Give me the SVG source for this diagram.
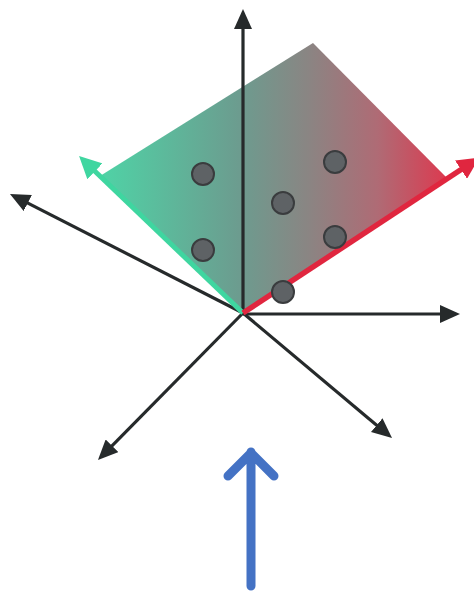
<svg xmlns="http://www.w3.org/2000/svg" width="474" height="591" viewBox="0 0 474 591">
  <style>
    .axis { stroke: #262a2b; stroke-width: 3.2; fill: none; }
    .dot { fill: #5e6265; stroke: #3a3c3e; stroke-width: 2; }
  </style>
  <defs>
    <linearGradient id="planeGrad" x1="100" y1="0" x2="447" y2="0" gradientUnits="userSpaceOnUse">
      <stop offset="0" stop-color="#4fd3a6"/>
      <stop offset="0.4" stop-color="#6c9c8f"/>
      <stop offset="0.6" stop-color="#8a8583"/>
      <stop offset="0.8" stop-color="#af6b75"/>
      <stop offset="1" stop-color="#dc3a50"/>
    </linearGradient>
    <marker id="ah" viewBox="0 0 20 18" markerUnits="userSpaceOnUse" markerWidth="20" markerHeight="18" refX="12" refY="9" orient="auto">
      <path d="M0,0 L20,9 L0,18 z" fill="#262a2b"/>
    </marker>
    <marker id="ahTeal" viewBox="0 0 22 22" markerUnits="userSpaceOnUse" markerWidth="22" markerHeight="22" refX="12" refY="11" orient="auto">
      <path d="M0,0 L22,11 L0,22 z" fill="#3fd6a0"/>
    </marker>
    <marker id="ahRed" viewBox="0 0 22 22" markerUnits="userSpaceOnUse" markerWidth="22" markerHeight="22" refX="12" refY="11" orient="auto">
      <path d="M0,0 L22,11 L0,22 z" fill="#e0263f"/>
    </marker>
  </defs>

  <g id="plane">
    <polygon points="243,313 100,176 313,43 447,178" fill="url(#planeGrad)"/>
  </g>

  <g id="connectors">
    <line class="axis" x1="243" y1="313" x2="243" y2="17" marker-end="url(#ah)"/>
    <line class="axis" x1="243" y1="313" x2="17.1" y2="197.6" marker-end="url(#ah)"/>
    <line class="axis" x1="243" y1="314" x2="452" y2="314" marker-end="url(#ah)"/>
    <line class="axis" x1="243" y1="313" x2="103.6" y2="454.3" marker-end="url(#ah)"/>
    <line class="axis" x1="243" y1="313" x2="385.9" y2="432.9" marker-end="url(#ah)"/>
    <line x1="243" y1="313" x2="86.3" y2="163" stroke="#3fd6a0" stroke-width="5" marker-end="url(#ahTeal)"/>
    <line x1="243" y1="313" x2="471" y2="163" stroke="#e0263f" stroke-width="5.5" marker-end="url(#ahRed)"/>
    <path d="M251,586 L251,452 M228,476 L251,453 L274,476" fill="none" stroke="#4472c4" stroke-width="9" stroke-linecap="round" stroke-linejoin="round"/>
  </g>

  <g id="dots">
    <circle class="dot" cx="203" cy="174" r="11"/>
    <circle class="dot" cx="203" cy="250" r="11"/>
    <circle class="dot" cx="283" cy="203" r="11"/>
    <circle class="dot" cx="335" cy="162" r="11"/>
    <circle class="dot" cx="335" cy="237" r="11"/>
    <circle class="dot" cx="283" cy="292" r="11"/>
  </g>
</svg>
